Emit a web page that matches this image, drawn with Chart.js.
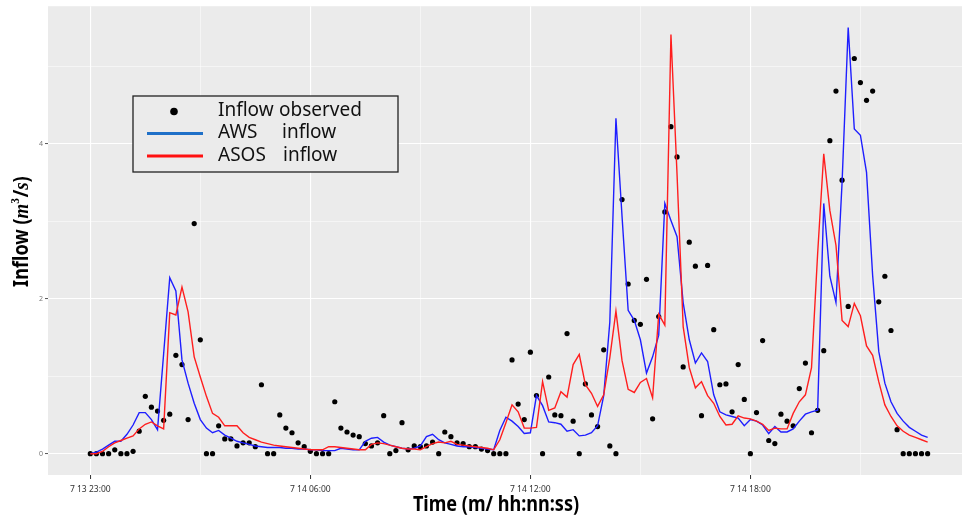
<!DOCTYPE html>
<html>
<head>
<meta charset="utf-8">
<script src="https://cdn.jsdelivr.net/npm/chart.js@4/dist/chart.umd.min.js"></script>
<style>
  html, body { margin: 0; padding: 0; background: #fff; }
  #wrap { width: 966px; height: 518px; }
</style>
</head>
<body>
<div id="wrap"><canvas id="c" width="966" height="518"></canvas></div>
<script>
// Time step between samples, in minutes
const STEP_MIN = 10;

// Observed inflow (m3/s), one value per 10-minute step
const observed = [
  0, 0, 0, 0, 0.05, 0, 0, 0.03, 0.29, 0.74,
  0.60, 0.55, 0.43, 0.51, 1.27, 1.15, 0.44, 2.97, 1.47, 0,
  0, 0.36, 0.19, 0.19, 0.10, 0.14, 0.14, 0.09, 0.89, 0,
  0, 0.50, 0.33, 0.27, 0.14, 0.09, 0.03, 0, 0, 0,
  0.67, 0.33, 0.28, 0.24, 0.22, 0.13, 0.10, 0.14, 0.49, 0,
  0.04, 0.40, 0.05, 0.10, 0.09, 0.10, 0.15, 0, 0.28, 0.22,
  0.14, 0.13, 0.09, 0.09, 0.06, 0.04, 0, 0, 0, 1.21,
  0.64, 0.44, 1.31, 0.75, 0, 0.99, 0.50, 0.49, 1.55, 0.42,
  0, 0.90, 0.50, 0.35, 1.34, 0.10, 0, 3.28, 2.19, 1.72,
  1.67, 2.25, 0.45, 1.77, 3.12, 4.22, 3.83, 1.12, 2.73, 2.42,
  0.49, 2.43, 1.60, 0.89, 0.90, 0.54, 1.15, 0.70, 0, 0.53,
  1.46, 0.17, 0.13, 0.51, 0.42, 0.36, 0.84, 1.17, 0.27, 0.56,
  1.33, 4.04, 4.68, 3.53, 1.90, 5.10, 4.79, 4.56, 4.68, 1.96,
  2.29, 1.59, 0.31, 0, 0, 0, 0, 0
];

// Simulated inflow driven by AWS rainfall
const awsInflow = [
  0, 0.02, 0.06, 0.11, 0.16, 0.16, 0.25, 0.37, 0.53, 0.53,
  0.44, 0.31, 1.29, 2.27, 2.10, 1.21, 0.91, 0.65, 0.44, 0.33,
  0.27, 0.30, 0.24, 0.20, 0.16, 0.14, 0.12, 0.10, 0.09, 0.08,
  0.08, 0.08, 0.07, 0.07, 0.06, 0.06, 0.05, 0.05, 0.04, 0.04,
  0.04, 0.07, 0.06, 0.05, 0.05, 0.16, 0.20, 0.21, 0.15, 0.11,
  0.09, 0.07, 0.06, 0.07, 0.10, 0.22, 0.25, 0.18, 0.14, 0.12,
  0.10, 0.09, 0.09, 0.08, 0.07, 0.06, 0.05, 0.30, 0.47, 0.42,
  0.35, 0.26, 0.27, 0.75, 0.62, 0.41, 0.40, 0.38, 0.29, 0.31,
  0.23, 0.24, 0.27, 0.36, 0.75, 1.70, 4.33, 3.06, 1.85, 1.72,
  1.47, 1.04, 1.25, 1.53, 3.23, 3.01, 2.80, 1.95, 1.47, 1.17,
  1.30, 1.19, 0.76, 0.54, 0.50, 0.48, 0.46, 0.36, 0.44, 0.42,
  0.37, 0.26, 0.35, 0.28, 0.28, 0.32, 0.42, 0.51, 0.54, 0.56,
  3.23, 2.29, 1.95, 3.50, 5.50, 4.19, 4.11, 3.63, 2.30, 1.32,
  0.91, 0.67, 0.52, 0.42, 0.34, 0.29, 0.24, 0.21
];

// Simulated inflow driven by ASOS rainfall
const asosInflow = [
  0, 0, 0.03, 0.09, 0.14, 0.17, 0.20, 0.23, 0.32, 0.38,
  0.41, 0.36, 0.32, 1.82, 1.79, 2.15, 1.83, 1.25, 0.99, 0.74,
  0.52, 0.47, 0.36, 0.36, 0.36, 0.27, 0.21, 0.18, 0.15, 0.13,
  0.11, 0.10, 0.09, 0.08, 0.07, 0.06, 0.05, 0.05, 0.05, 0.09,
  0.09, 0.08, 0.07, 0.06, 0.05, 0.05, 0.12, 0.14, 0.13, 0.11,
  0.09, 0.07, 0.06, 0.06, 0.05, 0.09, 0.13, 0.15, 0.14, 0.16,
  0.12, 0.11, 0.10, 0.09, 0.08, 0.07, 0.05, 0.18, 0.40, 0.63,
  0.54, 0.33, 0.33, 0.34, 0.93, 0.56, 0.59, 0.80, 0.73, 1.15,
  1.28, 0.89, 0.78, 0.61, 0.76, 1.24, 1.84, 1.20, 0.83, 0.79,
  0.92, 0.97, 0.72, 1.80, 1.66, 5.41, 3.60, 1.64, 1.11, 0.85,
  0.93, 0.75, 0.65, 0.48, 0.37, 0.38, 0.49, 0.46, 0.45, 0.42,
  0.38, 0.30, 0.33, 0.32, 0.32, 0.52, 0.67, 0.76, 1.11, 2.58,
  3.87, 3.14, 2.69, 1.72, 1.64, 1.94, 1.78, 1.39, 1.27, 0.93,
  0.63, 0.48, 0.36, 0.29, 0.24, 0.21, 0.18, 0.15
];

// Axis ticks (minutes from the first sample) and their labels
const xMajorTicks = [0, 360, 720, 1080];
const xTickLabels = ['7 13 23:00', '7 14 06:00', '7 14 12:00', '7 14 18:00'];
const xMinorTicks = [180, 540, 900, 1260];
const yMajorTicks = [0, 2, 4];
const yMinorTicks = [1, 3, 5];

const toPoints = arr => arr.map((v, i) => ({ x: i * STEP_MIN, y: v }));

const PANEL_BG = '#EBEBEB';

// Grey panel behind the grid
const panelBg = {
  id: 'panelBg',
  beforeDraw(chart) {
    const { ctx, chartArea: a } = chart;
    ctx.save();
    ctx.fillStyle = PANEL_BG;
    ctx.fillRect(a.left, a.top, a.right - a.left, a.bottom - a.top);
    ctx.restore();
  }
};

// Axis titles and the boxed legend
const decorations = {
  id: 'decorations',
  afterDraw(chart) {
    const ctx = chart.ctx;
    ctx.save();

    // x-axis title
    ctx.save();
    ctx.translate(496, 505);
    ctx.scale(0.86, 1);
    ctx.font = 'bold 21px "Noto Sans"';
    ctx.fillStyle = '#000';
    ctx.textAlign = 'center';
    ctx.textBaseline = 'middle';
    ctx.fillText('Time (m/ hh:nn:ss)', 0, 0);
    ctx.restore();

    // y-axis title: Inflow (m^3/s)
    ctx.save();
    ctx.translate(21, 232);
    ctx.rotate(-Math.PI / 2);
    ctx.scale(0.86, 1);
    ctx.fillStyle = '#000';
    ctx.textBaseline = 'alphabetic';
    const parts = [
      { t: 'Inflow (', f: 'bold 21px "Noto Sans"', dy: 0 },
      { t: 'm', f: 'bold italic 22px "Liberation Serif"', dy: 0 },
      { t: '3', f: 'bold 13px "Liberation Serif"', dy: -9 },
      { t: '/', f: 'bold 21px "Noto Sans"', dy: 0 },
      { t: 's', f: 'bold italic 22px "Liberation Serif"', dy: 0 },
      { t: ')', f: 'bold 21px "Noto Sans"', dy: 0 }
    ];
    let total = 0;
    parts.forEach(p => { ctx.font = p.f; p.w = ctx.measureText(p.t).width; total += p.w; });
    let px = -total / 2;
    parts.forEach(p => {
      ctx.font = p.f;
      ctx.fillText(p.t, px, 7 + p.dy);
      px += p.w + (p.t === '3' ? 1 : 0);
    });
    ctx.restore();

    // legend box
    ctx.fillStyle = PANEL_BG;
    ctx.fillRect(133, 96, 265, 76);
    ctx.strokeStyle = '#222';
    ctx.lineWidth = 1.3;
    ctx.strokeRect(133, 96, 265, 76);

    ctx.fillStyle = '#000';
    ctx.beginPath();
    ctx.arc(174, 111.5, 3.8, 0, Math.PI * 2);
    ctx.fill();

    ctx.lineWidth = 3;
    ctx.strokeStyle = '#1F70C8';
    ctx.beginPath(); ctx.moveTo(147, 133.5); ctx.lineTo(203, 133.5); ctx.stroke();
    ctx.strokeStyle = '#FF1010';
    ctx.beginPath(); ctx.moveTo(147, 156); ctx.lineTo(203, 156); ctx.stroke();

    ctx.font = '19px "Noto Sans"';
    ctx.fillStyle = '#111';
    ctx.textAlign = 'left';
    ctx.textBaseline = 'middle';
    ctx.fillText('Inflow', 218, 110.5);
    ctx.fillText('observed', 279, 110.5);
    ctx.fillText('AWS', 218, 133);
    ctx.fillText('inflow', 282, 133);
    ctx.fillText('ASOS', 218, 155.5);
    ctx.fillText('inflow', 283, 155.5);

    ctx.restore();
  }
};

const isMajorX = v => xMajorTicks.includes(v);
const isMajorY = v => yMajorTicks.includes(v);

new Chart(document.getElementById('c'), {
  type: 'line',
  data: {
    datasets: [
      {
        label: 'ASOS inflow',
        data: toPoints(asosInflow),
        borderColor: 'rgb(255,30,30)',
        borderWidth: 1.4,
        pointRadius: 0,
        tension: 0,
        order: 0
      },
      {
        label: 'AWS inflow',
        data: toPoints(awsInflow),
        borderColor: 'rgb(30,30,255)',
        borderWidth: 1.4,
        pointRadius: 0,
        tension: 0,
        order: 1
      },
      {
        label: 'Inflow observed',
        data: toPoints(observed),
        showLine: false,
        pointRadius: 2.6,
        pointBackgroundColor: '#000',
        pointBorderColor: '#000',
        pointBorderWidth: 0,
        order: 2
      }
    ]
  },
  options: {
    responsive: false,
    animation: false,
    events: [],
    layout: { padding: { top: 6, right: 0, left: 0, bottom: 0 } },
    plugins: { legend: { display: false }, tooltip: { enabled: false } },
    scales: {
      x: {
        type: 'linear',
        min: -69.2,
        max: 1426.2,
        afterBuildTicks: s => {
          s.ticks = [...xMajorTicks, ...xMinorTicks].sort((a, b) => a - b).map(v => ({ value: v }));
        },
        afterFit: s => { s.height = 43; },
        border: { display: false },
        grid: {
          color: '#FFFFFF',
          lineWidth: c => (c.tick && isMajorX(c.tick.value)) ? 1.1 : 0.5,
          tickLength: 4,
          tickWidth: 1,
          tickColor: c => (c.tick && isMajorX(c.tick.value)) ? '#333' : 'rgba(0,0,0,0)'
        },
        ticks: {
          autoSkip: false,
          maxRotation: 0,
          minRotation: 0,
          padding: 5,
          color: '#333',
          font: { family: 'Noto Sans', size: 8.5 },
          callback: v => {
            const k = xMajorTicks.indexOf(v);
            return k >= 0 ? xTickLabels[k] : '';
          }
        }
      },
      y: {
        type: 'linear',
        min: -0.275,
        max: 5.775,
        afterBuildTicks: s => {
          s.ticks = [...yMajorTicks, ...yMinorTicks].sort((a, b) => a - b).map(v => ({ value: v }));
        },
        afterFit: s => { s.width = 48; },
        border: { display: false },
        grid: {
          color: '#FFFFFF',
          lineWidth: c => (c.tick && isMajorY(c.tick.value)) ? 1.1 : 0.5,
          tickLength: 3,
          tickWidth: 1,
          tickColor: c => (c.tick && isMajorY(c.tick.value)) ? '#555' : 'rgba(0,0,0,0)'
        },
        ticks: {
          padding: 2,
          color: '#777',
          font: { family: 'Noto Sans', size: 7 },
          callback: v => isMajorY(v) ? String(v) : ''
        }
      }
    }
  },
  plugins: [panelBg, decorations]
});
</script>
</body>
</html>
